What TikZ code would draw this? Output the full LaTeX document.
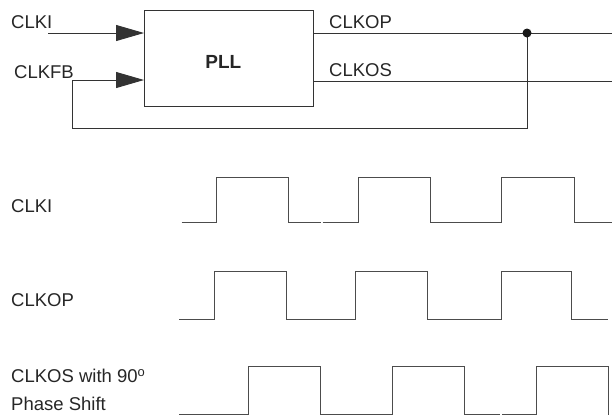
\documentclass[tikz,border=0pt]{standalone}
\usepackage{fontspec}
\setmainfont{Liberation Sans}
\usetikzlibrary{arrows.meta}
\begin{document}
\begin{tikzpicture}[x=1pt,y=-1pt,
  lbl/.style={inner sep=0pt, anchor=base west, font=\fontsize{18.5}{22}\selectfont, text=black!85},
  wire/.style={line width=0.9pt, draw=black!80},
  wave/.style={line width=1pt, draw=black!70},
  arr/.style={-{Triangle[length=28pt,width=16pt]}},
  blk/.style={draw=black!80, line width=0.9pt, minimum width=169pt, minimum height=96pt, inner sep=0pt}]
\useasboundingbox (0,0) rectangle (612,416);
% PLL block
\node[blk] (pll) at (228.5,58) {};
\node[inner sep=0pt, anchor=base, font=\fontsize{19}{22}\selectfont\bfseries, text=black!85] (plltxt) at (223.3,68.3) {PLL};
% labels top
\node[lbl] (lclki) at (11,28.3) {CLKI};
\node[lbl] (lclkfb) at (14,78.3) {CLKFB};
\node[lbl] (lclkop) at (329,28.3) {CLKOP};
\node[lbl] (lclkos) at (329,76.7) {CLKOS};
% coordinates
\coordinate (inA) at (48,33);
\coordinate (pinA) at (144,33);
\coordinate (pinB) at (144,80);
\coordinate (outA) at (313,33);
\coordinate (outB) at (313,81);
\coordinate (endA) at (612,33);
\coordinate (endB) at (612,81);
\coordinate (dot) at (527,33);
\coordinate (fb1) at (527,128);
\coordinate (fb2) at (72,128);
\coordinate (fb3) at (72,80);
% wires
\draw[wire,arr] (inA) -- (pinA);
\draw[wire] (outA) -- (endA);
\draw[wire] (outB) -- (endB);
\draw[wire,arr] (dot) -- (fb1) -- (fb2) -- (fb3) -- (pinB);
\fill[black!90] (dot) circle (4.5pt);
% waveform labels
\node[lbl] (wclki) at (11,212.3) {CLKI};
\node[lbl] (wclkop) at (11,306) {CLKOP};
\node[lbl] (wclkos) at (11,382.7) {CLKOS with 90\textsuperscript{o}};
\node[lbl] (wphase) at (11,410.7) {Phase Shift};
% CLKI waveform
\draw[wave] (181.7,222.7) -- (216.7,222.7) -- (216.7,177.3) -- (288.3,177.3) -- (288.3,222.7) -- (320.7,222.7);
\draw[wave] (322.7,222.7) -- (358.3,222.7) -- (358.3,177.3) -- (430,177.3) -- (430,222.7) -- (501.7,222.7) -- (501.7,177.3) -- (574,177.3) -- (574,222.7) -- (611.7,222.7);
% CLKOP waveform
\draw[wave] (179,319) -- (214,319) -- (214,271) -- (286,271) -- (286,319) -- (355,319) -- (355,271) -- (427.3,271) -- (427.3,319) -- (501.7,319) -- (501.7,271) -- (571,271) -- (571,319) -- (608.3,319);
% CLKOS waveform
\draw[wave] (179,414.5) -- (248.7,414.5) -- (248.7,366.7) -- (320.7,366.7) -- (320.7,414.5) -- (392.7,414.5) -- (392.7,366.7) -- (464.7,366.7) -- (464.7,414.5) -- (500,414.5);
\draw[wave] (502,414.5) -- (536.7,414.5) -- (536.7,366.7) -- (608.3,366.7) -- (608.3,414.5);
\end{tikzpicture}
\end{document}
